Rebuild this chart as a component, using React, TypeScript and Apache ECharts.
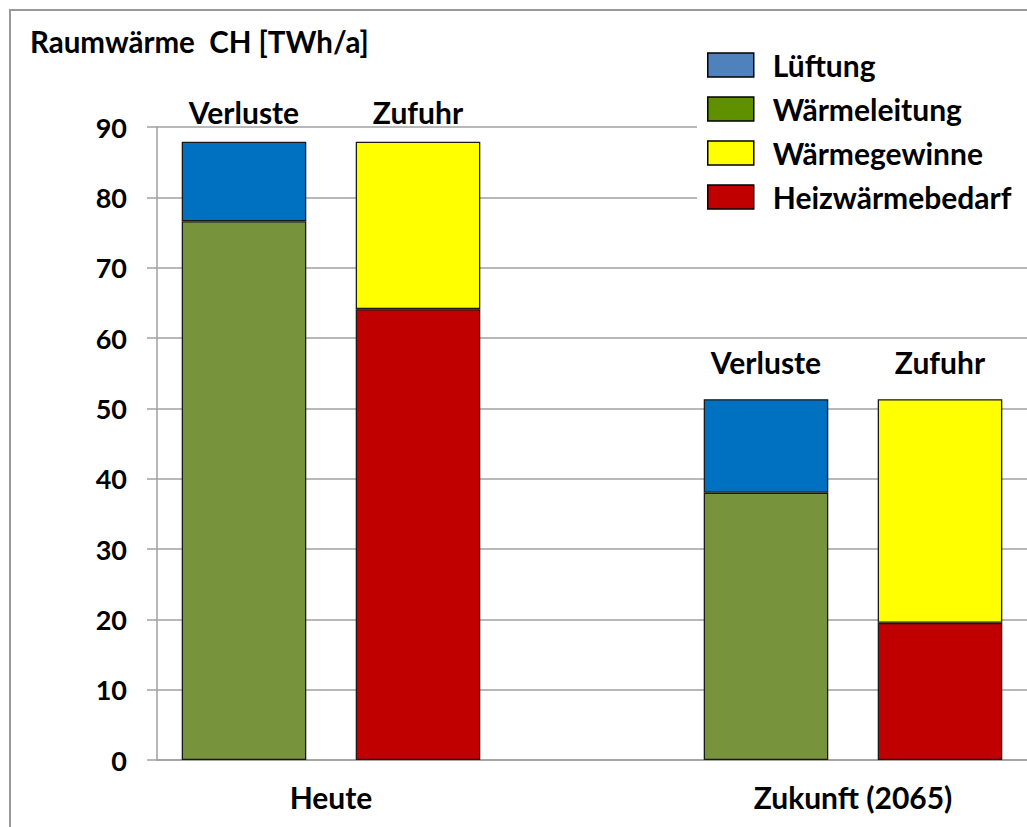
import React, { useEffect, useRef } from "react";
import * as echarts from "echarts";

const title = "Raumwärme  CH [TWh/a]";
const categories = ["Heute-Verluste", "Heute-Zufuhr", "", "Zukunft-Verluste", "Zukunft-Zufuhr"];
const barLabels = ["Verluste", "Zufuhr", "", "Verluste", "Zufuhr"];
const groupLabels = ["Heute", "Zukunft (2065)"];
const groupCenters = [0.5, 3.5];
const yTicks = [0, 10, 20, 30, 40, 50, 60, 70, 80, 90];

const waermeleitung = [76.6, null, null, 38.0, null];
const lueftung = [11.3, null, null, 13.3, null];
const heizwaermebedarf = [null, 64.1, null, null, 19.5];
const waermegewinne = [null, 23.8, null, null, 31.8];

const FONT = "Lato";

export default function App() {
  const ref = useRef<HTMLDivElement>(null);
  useEffect(() => {
    if (!ref.current) return;
    const chart = echarts.init(ref.current, undefined, { renderer: "svg" });
    const border = { borderColor: "#1a1a1a", borderWidth: 1.3 };
    const topLabel = {
      show: true,
      position: "top",
      formatter: (p: any) => barLabels[p.dataIndex],
      fontFamily: FONT,
      fontWeight: "bold",
      fontSize: 30,
      lineHeight: 30,
      color: "#000",
    };
    const bar = (name: string, data: any[], color: string, withLabel: boolean) => ({
      name,
      type: "bar",
      stack: "a",
      xAxisIndex: 0,
      data: withLabel
        ? data.map((v, i) => ({ value: v, label: { distance: i < 2 ? 15 : 22 } }))
        : data,
      barWidth: "71.6%",
      itemStyle: { color, ...border },
      label: withLabel ? topLabel : { show: false },
      labelLine: { show: false },
    });
    chart.setOption({
      animation: false,
      backgroundColor: "#ffffff",
      textStyle: { fontFamily: FONT },
      grid: { left: 157, right: -3, top: 127, bottom: 67, containLabel: false },
      legend: {
        orient: "vertical",
        left: 697,
        top: 42,
        padding: [8, 60, 8, 10],
        backgroundColor: "#ffffff",
        icon: "rect",
        itemWidth: 46,
        itemHeight: 24,
        itemGap: 14,
        itemStyle: { borderColor: "#000000", borderWidth: 1.5 },
        textStyle: {
          fontFamily: FONT,
          fontWeight: "bold",
          fontSize: 30,
          lineHeight: 30,
          color: "#000",
          padding: [0, 0, 0, 14],
        },
        data: [
          { name: "Lüftung", itemStyle: { color: "#4f81bd" } },
          { name: "Wärmeleitung", itemStyle: { color: "#5f9000" } },
          { name: "Wärmegewinne", itemStyle: { color: "#ffff00" } },
          { name: "Heizwärmebedarf", itemStyle: { color: "#c00000" } },
        ],
      },
      xAxis: [
        {
          type: "category",
          data: categories,
          boundaryGap: true,
          axisLine: { show: true, onZero: false, lineStyle: { color: "#a0a0a0", width: 1.5 } },
          axisTick: { show: false },
          axisLabel: { show: false },
          splitLine: { show: false },
        },
        {
          type: "value",
          min: -0.5,
          max: 4.5,
          position: "bottom",
          axisLine: { show: false, onZero: false },
          axisTick: { show: false },
          splitLine: { show: false },
          axisLabel: {
            customValues: groupCenters,
            formatter: (v: number) => groupLabels[groupCenters.indexOf(v)] ?? "",
            fontFamily: FONT,
            fontWeight: "bold",
            fontSize: 30,
            color: "#000",
            margin: 22,
          },
        },
      ],
      yAxis: {
        type: "value",
        min: yTicks[0],
        max: yTicks[yTicks.length - 1],
        interval: 10,
        axisLine: { show: true, onZero: false, lineStyle: { color: "#a0a0a0", width: 1.5 } },
        axisTick: { show: true, inside: false, length: 10, lineStyle: { color: "#a0a0a0", width: 1.5 } },
        splitLine: { show: true, lineStyle: { color: "#a0a0a0", width: 1.5 } },
        axisLabel: { fontFamily: FONT, fontWeight: "bold", fontSize: 27, color: "#000", margin: 30 },
      },
      graphic: [
        {
          type: "polyline",
          shape: { points: [[10, 830], [10, 10], [1030, 10]] },
          style: { stroke: "#999999", lineWidth: 2, fill: "none" },
          silent: true,
        },
        {
          type: "text",
          left: 30,
          top: 26,
          style: { text: title, fontFamily: FONT, fontWeight: "bold", fontSize: 29.5, fill: "#000" },
        },
      ],
      series: [
        bar("Wärmeleitung", waermeleitung, "#77933c", false),
        bar("Lüftung", lueftung, "#0070c0", true),
        bar("Heizwärmebedarf", heizwaermebedarf, "#c00000", false),
        bar("Wärmegewinne", waermegewinne, "#ffff00", true),
      ],
    });
    return () => chart.dispose();
  }, []);
  return (
    <div
      ref={ref}
      style={{ position: "absolute", left: 0, top: 0, width: 1027, height: 827 }}
    />
  );
}
